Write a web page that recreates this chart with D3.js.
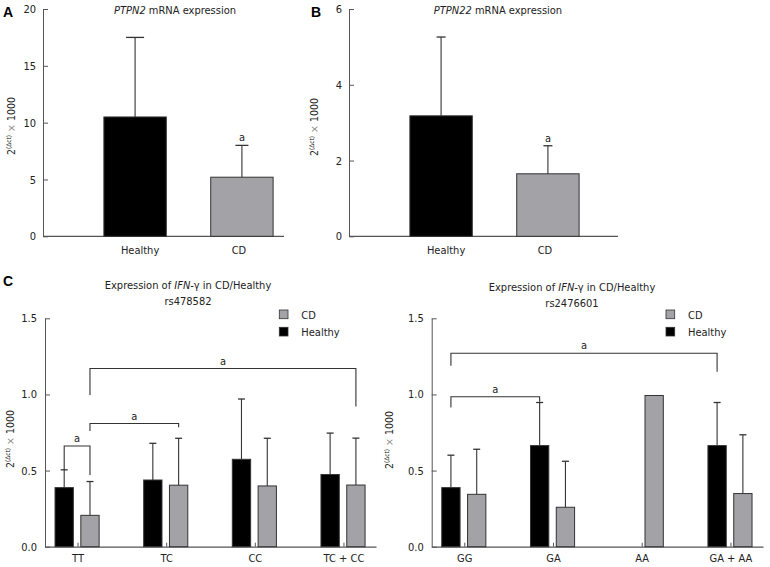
<!DOCTYPE html>
<html><head><meta charset="utf-8">
<script src="https://cdn.jsdelivr.net/npm/d3@7"></script>
<style>
body{margin:0;background:#fff}
svg{display:block;font-family:"DejaVu Sans Condensed","DejaVu Sans",sans-serif;font-stretch:condensed}
</style></head><body>
<svg id="chart" width="770" height="567"></svg>
<script>
// ---------- data ----------
const groupsAB = ["Healthy", "CD"];
const ptpn2Mean = [10.5, 5.2];
const ptpn2SD = [7.0, 2.8];
const ptpn22Mean = [3.18, 1.65];
const ptpn22SD = [2.08, 0.74];
const ticksA = [0, 5, 10, 15, 20];
const ticksB = [0, 2, 4, 6];

const series = ["Healthy", "CD"];
const genoLeft = ["TT", "TC", "CC", "TC + CC"];
const leftHealthyMean = [0.388, 0.438, 0.574, 0.474];
const leftHealthySD = [0.117, 0.241, 0.396, 0.272];
const leftCDMean = [0.206, 0.404, 0.399, 0.405];
const leftCDSD = [0.222, 0.308, 0.313, 0.308];

const genoRight = ["GG", "GA", "AA", "GA + AA"];
const rightHealthyMean = [0.388, 0.664, null, 0.664];
const rightHealthySD = [0.213, 0.283, null, 0.283];
const rightCDMean = [0.344, 0.259, 0.993, 0.349];
const rightCDSD = [0.296, 0.302, null, 0.386];
const ticksC = [0, 0.5, 1.0, 1.5];

// significance brackets: from [category, series] to [category, series], bar level, left foot, right foot
const bracketsLeft = [
  ["TT", "Healthy", "TT", "CD", 0.661, 0.504, 0.471],
  ["TT", "CD", "TC", "CD", 0.809, 0.760, 0.784],
  ["TT", "CD", "TC + CC", "CD", 1.170, 0.996, 0.921]
];
const bracketsRight = [
  ["GG", "Healthy", "GA", "Healthy", 0.985, 0.915, 0.952],
  ["GG", "Healthy", "GA + AA", "Healthy", 1.270, 1.188, 1.149]
];

// ---------- drawing ----------
const svg = d3.select("#chart");
const AXIS = "#555", EDGE = "#333", TXT = "#222";
const fill = {Healthy: "#000000", CD: "#a3a3a7"};
const FS = 11;

function styleAxis(g) {
  g.selectAll("path,line").attr("stroke", AXIS).attr("stroke-width", 1);
  g.selectAll("text").attr("fill", TXT).style("font-size", FS + "px")
    .style("font-family", '"DejaVu Sans Condensed","DejaVu Sans",sans-serif');
}

function yLabel(cx, cy) {
  const t = svg.append("text")
    .attr("transform", `translate(${cx},${cy}) rotate(-90)`)
    .attr("text-anchor", "middle").attr("fill", TXT).style("font-size", "10.5px");
  t.append("tspan").text("2");
  t.append("tspan").attr("baseline-shift", "super").style("font-size", "6.5px").text("(Δct)");
  t.append("tspan").attr("fill", "#888").text(" × ");
  t.append("tspan").text("1000");
}

function panelLetter(x, y, s) {
  svg.append("text").attr("x", x).attr("y", y).text(s)
    .style("font-family", '"Liberation Sans",Arial,sans-serif')
    .style("font-weight", "bold").style("font-size", "14px").attr("fill", "#000");
}

function errBar(g, cx, yTop, yCap, w) {
  g.append("line").attr("x1", cx).attr("x2", cx).attr("y1", yTop).attr("y2", yCap)
    .attr("stroke", EDGE).attr("stroke-width", 1.1);
  g.append("line").attr("x1", cx - w / 2).attr("x2", cx + w / 2).attr("y1", yCap).attr("y2", yCap)
    .attr("stroke", EDGE).attr("stroke-width", 1.3);
}

// Panels A and B
function simplePanel(o) {
  const y = d3.scaleLinear().domain([0, o.max]).range([236.3, 9]);
  const x = d3.scaleBand().domain(groupsAB).range([o.x0, o.x1]).paddingInner(0.416).paddingOuter(0.57);
  const g = svg.append("g");
  g.append("g").attr("transform", `translate(${o.x0},0)`)
    .call(d3.axisLeft(y).tickValues(o.ticks).tickFormat(d3.format("d")).tickSizeInner(-5).tickSizeOuter(0).tickPadding(7))
    .call(styleAxis);
  g.append("line").attr("x1", o.x0).attr("x2", o.axisEnd).attr("y1", y(0)).attr("y2", y(0))
    .attr("stroke", AXIS).attr("stroke-width", 1.2);
  groupsAB.forEach((k, i) => {
    g.append("rect").attr("x", x(k)).attr("y", y(o.mean[i])).attr("width", x.bandwidth())
      .attr("height", y(0) - y(o.mean[i])).attr("fill", fill[k]).attr("stroke", EDGE).attr("stroke-width", 1);
    errBar(g, x(k) + x.bandwidth() / 2, y(o.mean[i]), y(o.mean[i] + o.sd[i]), o.capW[i]);
    g.append("text").attr("x", x(k) + x.bandwidth() / 2 + (i === 0 ? 5 : -3)).attr("y", y(0) + 18)
      .attr("text-anchor", "middle").attr("fill", TXT).style("font-size", FS + "px").text(k);
  });
  g.append("text").attr("x", x("CD") + x.bandwidth() / 2).attr("y", y(o.mean[1] + o.sd[1]) - 4)
    .attr("text-anchor", "middle").attr("fill", TXT).style("font-size", FS + "px").text("a");
  const t = g.append("text").attr("x", o.titleX).attr("y", 14).attr("text-anchor", "middle")
    .attr("fill", TXT).style("font-size", FS + "px");
  t.append("tspan").style("font-style", "italic").text(o.gene);
  t.append("tspan").text(" mRNA expression");
}

simplePanel({x0: 43, x1: 334, axisEnd: 284, max: 20, ticks: ticksA, mean: ptpn2Mean, sd: ptpn2SD,
  capW: [18, 13], titleX: 175, gene: "PTPN2"});
simplePanel({x0: 349, x1: 640, axisEnd: 618, max: 6, ticks: ticksB, mean: ptpn22Mean, sd: ptpn22SD,
  capW: [9, 9], titleX: 498, gene: "PTPN22"});
panelLetter(3, 17, "A");
panelLetter(311, 17, "B");
yLabel(15, 126);
yLabel(318, 127);

// Panel C
function genoPanel(o) {
  const y = d3.scaleLinear().domain([0, 1.5]).range([546.7, 318.3]);
  const x = d3.scalePoint().domain(o.geno).range([o.x0, o.x1]).padding(0.367);
  const xs = d3.scaleBand().domain(series).range([-22.5, 21.6]).paddingInner(0.29);
  const g = svg.append("g");
  g.append("g").attr("transform", `translate(${o.x0},0)`)
    .call(d3.axisLeft(y).tickValues(ticksC).tickFormat(d3.format(".1f")).tickSizeInner(-5).tickSizeOuter(0).tickPadding(8))
    .call(styleAxis);
  g.append("g").attr("transform", `translate(0,${y(0)})`)
    .call(d3.axisBottom(x).tickSizeInner(-4).tickSizeOuter(0).tickPadding(8))
    .call(styleAxis)
    .call(a => a.select(".domain").attr("stroke-width", 1.2));
  const means = {Healthy: o.hMean, CD: o.cMean};
  const sds = {Healthy: o.hSD, CD: o.cSD};
  series.forEach(s => {
    o.geno.forEach((c, i) => {
      const m = means[s][i];
      if (m == null) return;
      const bx = x(c) + xs(s);
      g.append("rect").attr("x", bx).attr("y", y(m)).attr("width", xs.bandwidth())
        .attr("height", y(0) - y(m)).attr("fill", fill[s]).attr("stroke", EDGE).attr("stroke-width", 1);
      if (sds[s][i] != null) errBar(g, bx + xs.bandwidth() / 2, y(m), y(m + sds[s][i]), 7);
    });
  });
  // brackets
  o.brackets.forEach(b => {
    const xa = x(b[0]) + xs(b[1]) + xs.bandwidth() / 2;
    const xb = x(b[2]) + xs(b[3]) + xs.bandwidth() / 2;
    const path = d3.path();
    path.moveTo(xa, y(b[5])); path.lineTo(xa, y(b[4])); path.lineTo(xb, y(b[4])); path.lineTo(xb, y(b[6]));
    g.append("path").attr("d", path.toString()).attr("fill", "none").attr("stroke", EDGE).attr("stroke-width", 1.1);
    g.append("text").attr("x", (xa + xb) / 2).attr("y", y(b[4]) - 4).attr("text-anchor", "middle")
      .attr("fill", TXT).style("font-size", FS + "px").text("a");
  });
  // legend
  const lg = g.append("g").attr("transform", `translate(${o.x0 + 234.3},310)`);
  ["CD", "Healthy"].forEach((s, i) => {
    lg.append("rect").attr("x", 0).attr("y", i * 17.3).attr("width", 8.7).attr("height", 8.7)
      .attr("fill", fill[s]).attr("stroke", EDGE).attr("stroke-width", 0.8);
    lg.append("text").attr("x", 22).attr("y", i * 17.3 + 8.8).attr("fill", TXT)
      .style("font-size", FS + "px").text(s);
  });
  // title
  const t1 = g.append("text").attr("x", o.titleX).attr("y", o.titleY).attr("text-anchor", "middle")
    .attr("fill", TXT).style("font-size", FS + "px");
  t1.append("tspan").text("Expression of ");
  t1.append("tspan").style("font-style", "italic").text("IFN-");
  t1.append("tspan").text("γ in CD/Healthy");
  g.append("text").attr("x", o.titleX).attr("y", o.titleY + 16).attr("text-anchor", "middle")
    .attr("fill", TXT).style("font-size", FS + "px").text(o.snp);
}

genoPanel({x0: 45, x1: 376, geno: genoLeft, hMean: leftHealthyMean, hSD: leftHealthySD,
  cMean: leftCDMean, cSD: leftCDSD, brackets: bracketsLeft, titleX: 188, titleY: 289, snp: "rs478582"});
genoPanel({x0: 431.7, x1: 763, geno: genoRight, hMean: rightHealthyMean, hSD: rightHealthySD,
  cMean: rightCDMean, cSD: rightCDSD, brackets: bracketsRight, titleX: 572, titleY: 291, snp: "rs2476601"});
panelLetter(3, 286, "C");
yLabel(14, 439);
yLabel(393, 440);
</script>
</body></html>
